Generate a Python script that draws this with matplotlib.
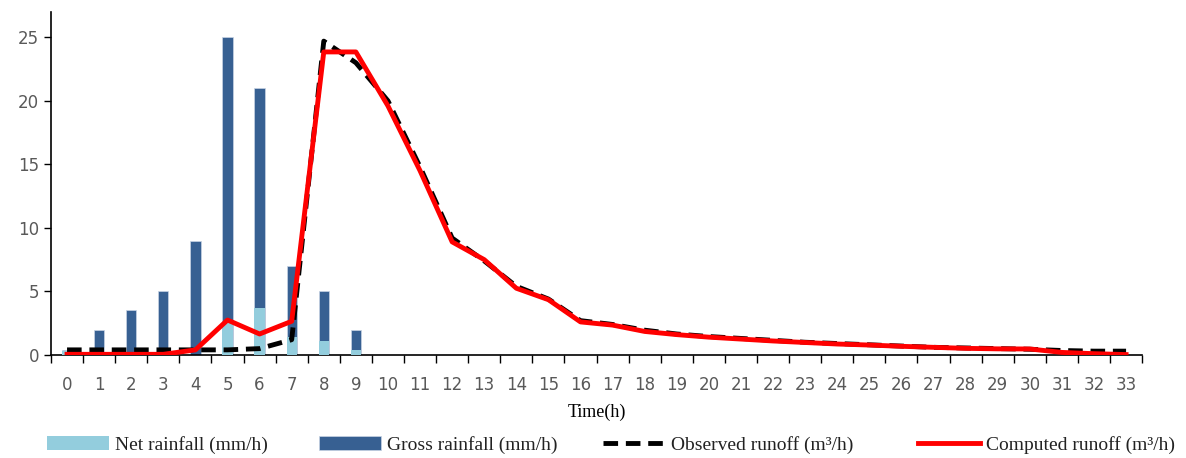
import matplotlib
matplotlib.use("Agg")
import matplotlib.pyplot as plt
import numpy as np

hours = list(range(34))
gross_rain = [0.4, 2.0, 3.5, 5.0, 9.0, 25.0, 21.0, 7.0, 5.0, 2.0] + [0]*24
net_rain = [0.3, 0, 0, 0, 0, 2.7, 3.7, 1.4, 1.1, 0.4] + [0]*24
observed = [0.4, 0.4, 0.4, 0.4, 0.4, 0.4, 0.5, 1.2, 24.7, 23.0, 20.0, 14.8, 9.2, 7.4,
            5.4, 4.4, 2.7, 2.4, 1.95, 1.65, 1.45, 1.3, 1.15, 1.0, 0.9, 0.8, 0.7, 0.6,
            0.55, 0.5, 0.45, 0.35, 0.3, 0.3]
computed = [0.05, 0.05, 0.05, 0.05, 0.4, 2.75, 1.65, 2.65, 23.85, 23.85, 19.6, 14.5, 8.9, 7.5,
            5.25, 4.35, 2.6, 2.35, 1.85, 1.6, 1.4, 1.25, 1.1, 0.98, 0.86, 0.78, 0.68, 0.6,
            0.52, 0.48, 0.47, 0.2, 0.1, 0.03]

fig = plt.figure(figsize=(11.86, 4.58), dpi=100)
ax = fig.add_axes([0.043, 0.225, 0.92, 0.749])

x = np.array(hours)
h_gross = ax.bar(x, gross_rain, width=0.32, color="#376092", edgecolor="#c8d4e4", linewidth=0.5,
                 label="Gross rainfall (mm/h)", zorder=2)
h_net = ax.bar(x, net_rain, width=0.32, color="#93CDDD", edgecolor="none",
               label="Net rainfall (mm/h)", zorder=3)
h_obs, = ax.plot(x, observed, color="black", linestyle=(0, (3, 1.6)), linewidth=3.5,
                 label="Observed runoff (m³/h)", zorder=4)
h_comp, = ax.plot(x, computed, color="#FF0000", linewidth=3.5,
                  label="Computed runoff (m³/h)", zorder=5)

ax.set_xlim(-0.5, 33.5)
ax.set_ylim(0, 27)
ax.set_yticks([0, 5, 10, 15, 20, 25])
ax.set_xticks(x)
ax.set_xticks(np.arange(-0.5, 34, 1), minor=True)
ax.tick_params(axis="x", which="major", length=0, labelsize=12, labelcolor="#595959", pad=15)
ax.tick_params(axis="x", which="minor", length=6, width=1, color="black", direction="out")
ax.tick_params(axis="y", length=5, width=1, labelsize=12, labelcolor="#595959")
for s in ["top", "right"]:
    ax.spines[s].set_visible(False)
ax.spines["left"].set_linewidth(1.2)
ax.spines["bottom"].set_linewidth(1.2)

ax.set_xlabel("Time(h)", family="Liberation Serif", fontsize=13, labelpad=7)

handles = [h_net, h_gross, h_obs, h_comp]
xpos = [47, 319, 603, 918]
for h, xp in zip(handles, xpos):
    lg = fig.legend([h], [h.get_label()], loc="center left",
                    bbox_to_anchor=(xp / 1186, 1 - 445 / 458),
                    frameon=False, handlelength=3.2, handletextpad=0.3,
                    borderpad=0, borderaxespad=0,
                    prop={"family": "Liberation Serif", "size": 14})
    for t in lg.get_texts():
        t.set_color("#222222")
plt.savefig("out.png", dpi=100)
